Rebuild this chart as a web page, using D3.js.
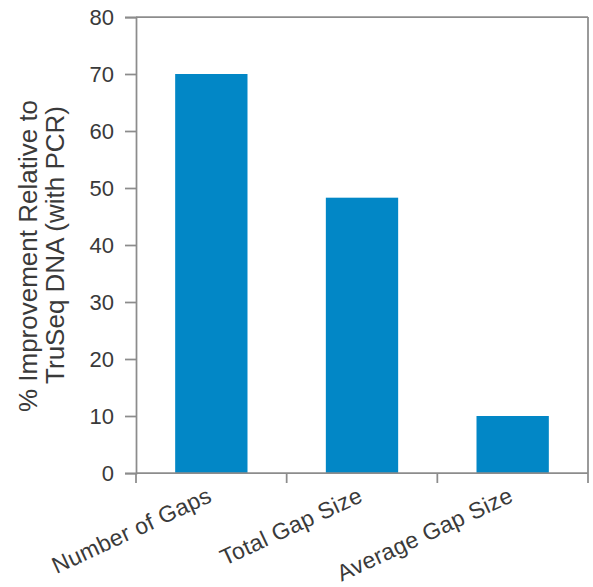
<!DOCTYPE html>
<html>
<head>
<meta charset="utf-8">
<script src="https://d3js.org/d3.v7.min.js"></script>
<style>
  body { margin: 0; background: #fff; }
  text { font-family: "Liberation Sans", Arial, sans-serif; fill: #3a3a3a; }
</style>
</head>
<body>
<svg id="chart" width="593" height="587"></svg>
<script>
var Categories = ["Number of Gaps", "Total Gap Size", "Average Gap Size"];
var Improvement = [70, 48.3, 10];
var YTicks = [0, 10, 20, 30, 40, 50, 60, 70, 80];
var YTitle = ["% Improvement Relative to", "TruSeq DNA (with PCR)"];

var Left = 136, Right = 588, Top = 17, Bottom = 473;
var AxisColor = "#8c8c8c";
var BarColor = "#0287c6";

var svg = d3.select("#chart");

var x = d3.scaleBand().domain(Categories).range([Left, Right]).padding(0);
var y = d3.scaleLinear().domain([0, 80]).range([Bottom, Top]);
var step = x.step();

// bars
svg.selectAll(".bar")
    .data(Categories)
    .enter()
    .append("rect")
    .attr("class", "bar")
    .attr("x", function(d){ return x(d) + step * 0.26; })
    .attr("width", step * 0.48)
    .attr("y", function(d, i){ return y(Improvement[i]); })
    .attr("height", function(d, i){ return y(0) - y(Improvement[i]); })
    .style("fill", BarColor);

// frame (top and right)
svg.append("line")
    .attr("x1", Left).attr("x2", Right)
    .attr("y1", y(80)).attr("y2", y(80))
    .style("stroke", AxisColor).style("stroke-width", 1.75);
svg.append("line")
    .attr("x1", Right).attr("x2", Right)
    .attr("y1", y(80)).attr("y2", y(0))
    .style("stroke", AxisColor).style("stroke-width", 1.75);

// y axis
var yAxis = d3.axisLeft(y).tickValues(YTicks).tickSize(11).tickPadding(11);
var gy = svg.append("g").attr("transform", "translate(" + Left + ",0)").call(yAxis);
gy.select(".domain").style("stroke", AxisColor).style("stroke-width", 1.75);
gy.selectAll(".tick line").style("stroke", AxisColor).style("stroke-width", 1.75);
gy.selectAll(".tick text")
    .style("font-size", "22px")
    .style("font-family", "'Liberation Sans', Arial, sans-serif")
    .attr("fill", "#3a3a3a");

// x axis line and boundary ticks
svg.append("line")
    .attr("x1", Left).attr("x2", Right)
    .attr("y1", y(0)).attr("y2", y(0))
    .style("stroke", AxisColor).style("stroke-width", 1.75);

var bounds = Categories.map(function(d){ return x(d); });
bounds.push(Right);
svg.selectAll(".xtick")
    .data(bounds)
    .enter()
    .append("line")
    .attr("class", "xtick")
    .attr("x1", function(d){ return d; })
    .attr("x2", function(d){ return d; })
    .attr("y1", y(0))
    .attr("y2", y(0) + 10)
    .style("stroke", AxisColor).style("stroke-width", 1.75);

// x labels, rotated, ending at the category centre
svg.selectAll(".xlabel")
    .data(Categories)
    .enter()
    .append("text")
    .attr("class", "xlabel")
    .attr("text-anchor", "end")
    .style("font-size", "23px")
    .style("letter-spacing", "0.3px")
    .attr("transform", function(d){
        var ax = x(d) + step / 2 + 2;
        return "translate(" + ax + "," + (y(0) + 28) + ") rotate(-25)";
    })
    .text(function(d){ return d; });

// y title
svg.append("text")
    .attr("text-anchor", "middle")
    .style("font-size", "26px")
    .attr("transform", "translate(37,256) rotate(-90)")
    .text(YTitle[0]);
svg.append("text")
    .attr("text-anchor", "middle")
    .style("font-size", "26px")
    .attr("transform", "translate(64,245) rotate(-90)")
    .text(YTitle[1]);
</script>
</body>
</html>
